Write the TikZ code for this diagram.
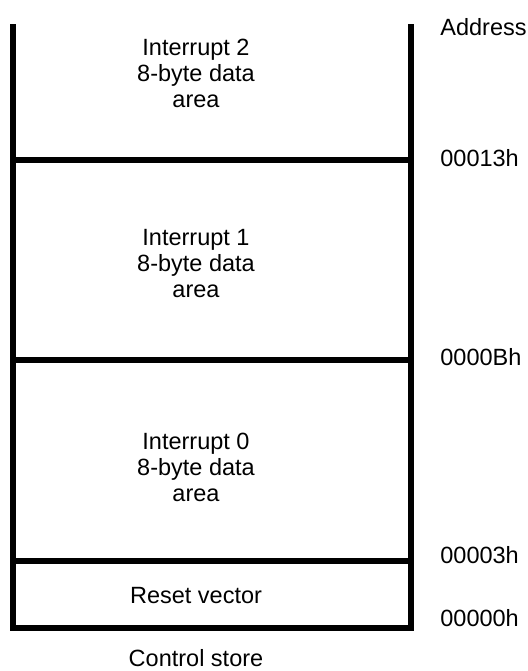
\documentclass[tikz,border=0pt]{standalone}
\usepackage{fontspec}
\setmainfont{Liberation Sans}
\usetikzlibrary{positioning}
\tikzset{wall/.style={line width=2.8pt},
  area/.style={align=center,font=\fontsize{11.75}{13}\selectfont},
  addr/.style={anchor=west,inner sep=0pt,font=\fontsize{11.75}{13}\selectfont}}

\begin{document}
\begin{tikzpicture}[x=0.5pt,y=-0.5pt]
\useasboundingbox (0,0) rectangle (527,671);
\coordinate (tl) at (13,24);
\coordinate (tr) at (411,24);
\coordinate (bl) at (13,628);
\coordinate (br) at (411,628);
\draw[wall] (tl) -- (bl) -- (br) -- (tr);
\foreach \n/\y in {b2/160, b1/360, b0/561} {
\coordinate (\n l) at (13,\y);
\coordinate (\n r) at (411,\y);
\draw[wall] (\n l) -- (\n r);
}
\foreach \k/\y in {2/73, 1/264, 0/467} {
\node[area] (int\k) at (196,\y) {Interrupt \k\\8-byte data\\area};
}
\node[area] (reset) at (196,596) {Reset vector};
\node[area] (store) at (196,658) {Control store};
\node[addr] (addr) at (440,27) {Address};
\node[addr] (a13) at (440,158) {00013h};
\node[addr] (a0b) at (440,357) {0000Bh};
\node[addr] (a03) at (440,555) {00003h};
\node[addr] (a00) at (440,618) {00000h};
\end{tikzpicture}
\end{document}
